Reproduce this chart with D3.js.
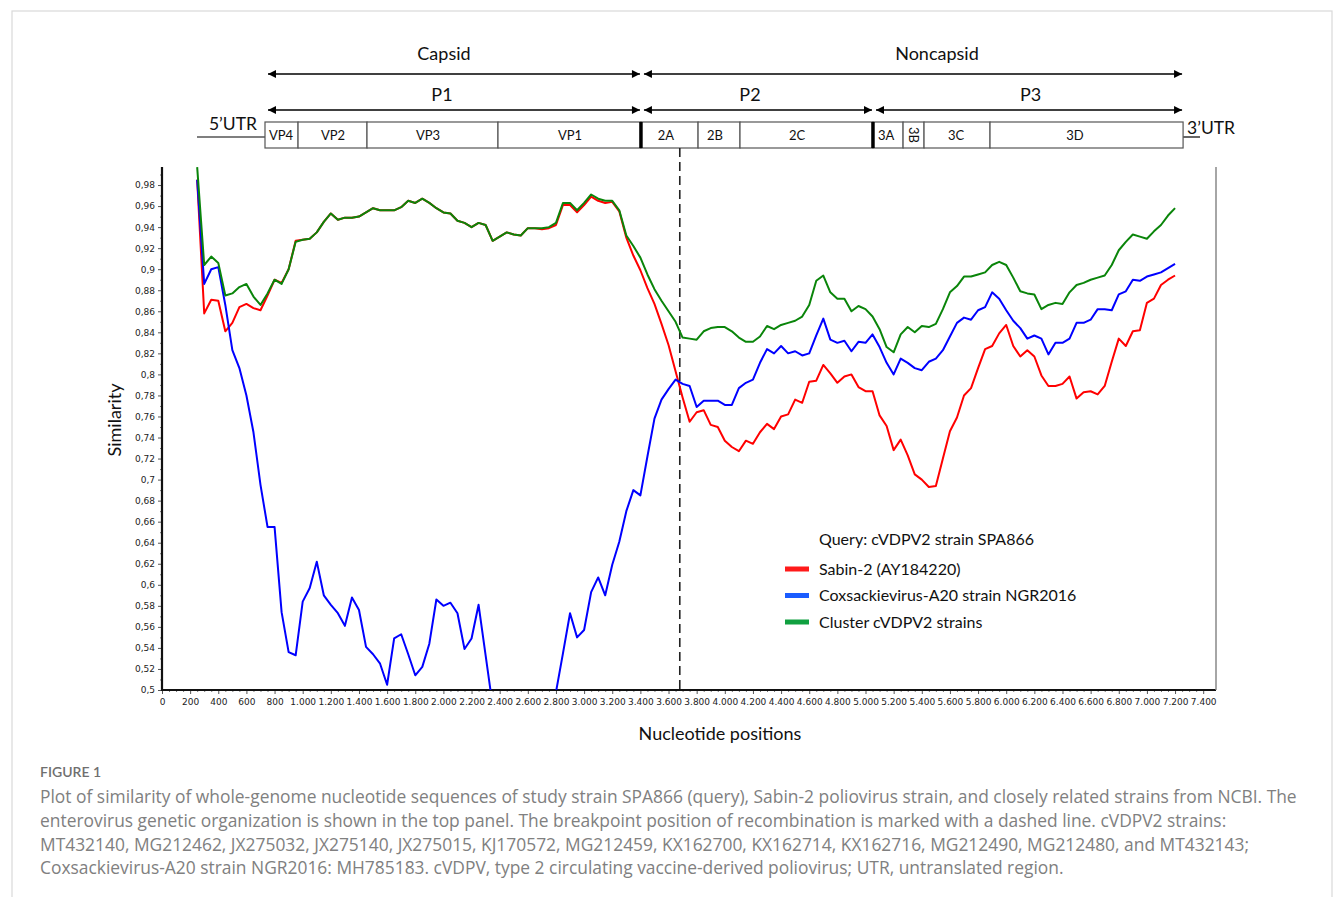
<!DOCTYPE html>
<html>
<head>
<meta charset="utf-8">
<script src="https://cdn.jsdelivr.net/npm/d3@7"></script>
<style>
body { margin: 0; background: #fff; }
svg { display: block; }
</style>
</head>
<body>
<div id="grafica"></div>
<script>
// posiciones de nucleotidos (ventana cada 50 nt)
var positions = [250,300,350,400,450,500,550,600,650,700,750,800,850,900,950,1000,1050,1100,1150,1200,
1250,1300,1350,1400,1450,1500,1550,1600,1650,1700,1750,1800,1850,1900,1950,2000,2050,2100,2150,2200,
2250,2300,2350,2400,2450,2500,2550,2600,2650,2700,2750,2800,2850,2900,2950,3000,3050,3100,3150,3200,
3250,3300,3350,3400,3450,3500,3550,3600,3650,3700,3750,3800,3850,3900,3950,4000,4050,4100,4150,4200,
4250,4300,4350,4400,4450,4500,4550,4600,4650,4700,4750,4800,4850,4900,4950,5000,5050,5100,5150,5200,
5250,5300,5350,5400,5450,5500,5550,5600,5650,5700,5750,5800,5850,5900,5950,6000,6050,6100,6150,6200,
6250,6300,6350,6400,6450,6500,6550,6600,6650,6700,6750,6800,6850,6900,6950,7000,7050,7100,7150,7200];

var sabin2 = [0.985,0.858,0.871,0.870,0.841,0.849,0.864,0.867,0.863,0.861,0.875,0.890,0.887,0.900,0.927,0.928,0.929,0.935,0.945,0.953,
0.947,0.949,0.949,0.950,0.954,0.958,0.956,0.956,0.956,0.959,0.965,0.963,0.967,0.963,0.958,0.954,0.953,0.946,0.944,0.940,
0.944,0.942,0.927,0.931,0.935,0.933,0.932,0.939,0.939,0.938,0.939,0.942,0.961,0.961,0.954,0.961,0.969,0.965,0.963,0.964,
0.955,0.930,0.913,0.899,0.882,0.867,0.848,0.828,0.803,0.778,0.755,0.764,0.766,0.752,0.750,0.737,0.731,0.727,0.737,0.734,
0.745,0.753,0.748,0.760,0.762,0.776,0.773,0.793,0.794,0.809,0.801,0.792,0.798,0.800,0.788,0.784,0.784,0.761,0.751,0.728,
0.738,0.723,0.705,0.700,0.693,0.694,0.720,0.746,0.759,0.780,0.787,0.806,0.824,0.827,0.839,0.847,0.827,0.817,0.823,0.817,
0.799,0.789,0.789,0.791,0.798,0.777,0.783,0.784,0.781,0.789,0.812,0.834,0.827,0.841,0.842,0.868,0.872,0.885,0.890,0.894];

var cva20 = [0.985,0.886,0.900,0.902,0.866,0.823,0.806,0.780,0.745,0.695,0.655,0.655,0.574,0.536,0.533,0.584,0.597,0.622,0.590,0.581,
0.573,0.561,0.588,0.576,0.541,0.534,0.525,0.505,0.549,0.553,0.534,0.514,0.522,0.544,0.586,0.580,0.583,0.573,0.539,0.549,
0.581,0.533,0.485,0.470,0.460,0.455,0.460,0.465,0.460,0.465,0.475,0.498,0.535,0.573,0.550,0.557,0.593,0.607,0.590,0.619,
0.641,0.670,0.690,0.685,0.722,0.758,0.776,0.786,0.795,0.791,0.789,0.769,0.775,0.775,0.775,0.771,0.771,0.787,0.792,0.795,
0.811,0.824,0.820,0.827,0.820,0.822,0.818,0.820,0.837,0.853,0.833,0.830,0.832,0.822,0.831,0.830,0.838,0.826,0.811,0.800,
0.815,0.811,0.806,0.804,0.812,0.815,0.823,0.836,0.849,0.854,0.852,0.861,0.864,0.878,0.872,0.861,0.851,0.844,0.834,0.837,
0.834,0.819,0.830,0.830,0.834,0.849,0.849,0.852,0.862,0.862,0.861,0.876,0.879,0.890,0.889,0.893,0.895,0.897,0.901,0.905];

var cluster = [0.997,0.904,0.912,0.906,0.875,0.877,0.883,0.886,0.874,0.866,0.877,0.890,0.886,0.900,0.926,0.928,0.929,0.935,0.945,0.953,
0.947,0.949,0.949,0.950,0.954,0.958,0.956,0.956,0.956,0.959,0.965,0.963,0.967,0.963,0.958,0.954,0.953,0.946,0.944,0.940,
0.944,0.942,0.927,0.931,0.935,0.933,0.932,0.939,0.939,0.939,0.940,0.944,0.963,0.963,0.956,0.963,0.971,0.967,0.965,0.965,
0.956,0.932,0.922,0.911,0.895,0.881,0.870,0.860,0.850,0.835,0.834,0.833,0.841,0.844,0.845,0.845,0.841,0.835,0.831,0.831,
0.836,0.846,0.843,0.847,0.849,0.851,0.855,0.866,0.889,0.894,0.878,0.872,0.872,0.860,0.865,0.862,0.855,0.843,0.826,0.821,
0.838,0.845,0.840,0.846,0.845,0.848,0.862,0.878,0.884,0.893,0.893,0.895,0.897,0.904,0.907,0.904,0.892,0.879,0.877,0.876,
0.862,0.866,0.868,0.867,0.878,0.885,0.887,0.890,0.892,0.894,0.904,0.918,0.926,0.933,0.931,0.929,0.936,0.942,0.951,0.958];

var seriesNames = ["Sabin-2 (AY184220)", "Coxsackievirus-A20 strain NGR2016", "Cluster cVDPV2 strains"];
var seriesColors = ["#ff0000", "#0000ff", "#0a850a"];
var legendColors = ["#ff1a1a", "#1a5cff", "#10a040"];

// organizacion genetica (posiciones en nt)
var regionNames = ["VP4","VP2","VP3","VP1","2A","2B","2C","3A","3B","3C","3D"];
var regionStart = [732, 967, 1457, 2388, 3404, 3810, 4108, 5053, 5267, 5416, 5885];
var regionEnd   = [967, 1457, 2388, 3404, 3810, 4108, 5053, 5267, 5416, 5885, 7257];
var regionLabelAt = [846, 1215, 1891, 2900, 3582, 3930, 4513, 5146, 5338, 5643, 6489];
var proteinNames = ["P1", "P2", "P3"];
var proteinStart = [732, 3404, 5053];
var proteinEnd   = [3404, 5053, 7257];
var proteinLabelAt = [1990, 4179, 6173];
var groupNames = ["Capsid", "Noncapsid"];
var groupStart = [732, 3404];
var groupEnd   = [3404, 7257];
var groupLabelAt = [2004, 5508];
var breakpoint = 3680;

var xTicks = [0,200,400,600,800,1000,1200,1400,1600,1800,2000,2200,2400,2600,2800,3000,3200,3400,3600,3800,
4000,4200,4400,4600,4800,5000,5200,5400,5600,5800,6000,6200,6400,6600,6800,7000,7200,7400];
var yTicks = [0.5,0.52,0.54,0.56,0.58,0.6,0.62,0.64,0.66,0.68,0.7,0.72,0.74,0.76,0.78,0.8,0.82,0.84,0.86,0.88,0.9,0.92,0.94,0.96,0.98];

var captionTitle = "FIGURE 1";
var captionLines = [
"Plot of similarity of whole-genome nucleotide sequences of study strain SPA866 (query), Sabin-2 poliovirus strain, and closely related strains from NCBI. The",
"enterovirus genetic organization is shown in the top panel. The breakpoint position of recombination is marked with a dashed line. cVDPV2 strains:",
"MT432140, MG212462, JX275032, JX275140, JX275015, KJ170572, MG212459, KX162700, KX162714, KX162716, MG212490, MG212480, and MT432143;",
"Coxsackievirus-A20 strain NGR2016: MH785183. cVDPV, type 2 circulating vaccine-derived poliovirus; UTR, untranslated region."
];

var W = 1333, H = 897;
var plot = {left: 162, right: 1203.2, top: 164, bottom: 690, frameRight: 1216};
var font = "Lato, 'Open Sans', sans-serif";
var captionFont = "'Open Sans', Lato, sans-serif";
var tickFont = "'DejaVu Sans', Verdana, sans-serif";

var svg = d3.select("#grafica").append("svg")
  .attr("width", W).attr("height", H);

svg.append("rect").attr("width", W).attr("height", H).attr("fill", "#fff");

// marco exterior
svg.append("rect")
  .attr("x", 12).attr("y", 11).attr("width", 1320).attr("height", 920)
  .attr("fill", "none").attr("stroke", "#d9d9d9").attr("stroke-width", 1.2);

var loc = d3.formatLocale({decimal: ",", thousands: ".", grouping: [3], currency: ["", ""]});

var x = d3.scaleLinear().domain([0, 7400]).range([plot.left, plot.right]);
var y = d3.scaleLinear().domain([0.5, 1]).range([plot.bottom, plot.top]);

// flechas
var defs = svg.append("defs");
defs.append("marker").attr("id", "arr").attr("viewBox", "0 0 10 10")
  .attr("refX", 10).attr("refY", 5).attr("markerWidth", 9).attr("markerHeight", 8)
  .attr("markerUnits", "userSpaceOnUse").attr("orient", "auto-start-reverse")
  .append("path").attr("d", "M0,0 L10,5 L0,10 Z").attr("fill", "#000");
defs.append("clipPath").attr("id", "clipPlot").append("rect")
  .attr("x", plot.left).attr("y", plot.top).attr("width", plot.frameRight - plot.left).attr("height", plot.bottom - plot.top);

// panel superior
var panel = svg.append("g");
function arrowRow(names, starts, ends, labelAt, yy, ty) {
  names.forEach(function(n, i) {
    panel.append("line")
      .attr("x1", x(starts[i]) + 3).attr("x2", x(ends[i]) - 1)
      .attr("y1", yy).attr("y2", yy)
      .attr("stroke", "#000").attr("stroke-width", 1.6)
      .attr("marker-start", "url(#arr)").attr("marker-end", "url(#arr)");
    panel.append("text")
      .attr("x", x(labelAt[i])).attr("y", ty)
      .attr("text-anchor", "middle").attr("font-family", font).attr("font-size", 18)
      .attr("fill", "#111").text(n);
  });
}
arrowRow(groupNames, groupStart, groupEnd, groupLabelAt, 74, 60);
arrowRow(proteinNames, proteinStart, proteinEnd, proteinLabelAt, 110, 101);

var barTop = 122, barH = 26;
panel.append("line").attr("x1", 197).attr("x2", x(regionStart[0])).attr("y1", 137).attr("y2", 137)
  .attr("stroke", "#000").attr("stroke-width", 1.2);
panel.append("text").attr("x", 233).attr("y", 130).attr("text-anchor", "middle")
  .attr("font-family", font).attr("font-size", 17.5).attr("fill", "#111").text("5\u2019UTR");
panel.append("line").attr("x1", x(regionEnd[regionEnd.length - 1])).attr("x2", 1200).attr("y1", 137).attr("y2", 137)
  .attr("stroke", "#000").attr("stroke-width", 1.2);
panel.append("text").attr("x", 1187).attr("y", 134).attr("font-family", font).attr("font-size", 17.5)
  .attr("fill", "#111").text("3\u2019UTR");

panel.selectAll("rect.seg").data(regionNames).enter().append("rect")
  .attr("class", "seg")
  .attr("x", function(d, i) { return x(regionStart[i]); })
  .attr("y", barTop)
  .attr("width", function(d, i) { return x(regionEnd[i]) - x(regionStart[i]); })
  .attr("height", barH)
  .attr("fill", "#fff").attr("stroke", "#555").attr("stroke-width", 1.2);

panel.selectAll("text.seg").data(regionNames).enter().append("text")
  .attr("class", "seg")
  .attr("transform", function(d, i) {
    var cx = x(regionLabelAt[i]);
    return d === "3B" ? "translate(" + (cx - 4) + "," + (barTop + barH / 2) + ")rotate(90)"
                      : "translate(" + cx + "," + (barTop + barH / 2 + 4.5) + ")";
  })
  .attr("text-anchor", "middle").attr("font-family", font).attr("font-size", 13)
  .attr("fill", "#111").text(function(d) { return d; });

// separadores gruesos entre P1/P2 y P2/P3
[proteinStart[1], proteinStart[2]].forEach(function(p) {
  panel.append("line").attr("x1", x(p)).attr("x2", x(p)).attr("y1", barTop).attr("y2", barTop + barH)
    .attr("stroke", "#000").attr("stroke-width", 3.5);
});

// ejes
var g = svg.append("g");

var yMinor = [];
yTicks.forEach(function(t) { yMinor.push(t + 0.01); });
g.append("g").attr("transform", "translate(" + plot.left + ",0)")
  .call(d3.axisLeft(y).tickValues(yMinor).tickSize(2).tickFormat(""))
  .call(function(a) { a.select(".domain").remove(); a.selectAll("line").attr("stroke", "#777"); });
g.append("g").attr("transform", "translate(" + plot.left + ",0)")
  .call(d3.axisLeft(y).tickValues(yTicks).tickSize(4).tickPadding(3).tickFormat(loc.format("~g")))
  .call(function(a) {
    a.select(".domain").remove();
    a.selectAll("line").attr("stroke", "#555");
    a.selectAll("text").attr("font-family", tickFont).attr("font-size", 9).attr("fill", "#222");
  });

var xMinor = [];
xTicks.forEach(function(t) { xMinor.push(t + 50, t + 100, t + 150); });
g.append("g").attr("transform", "translate(0," + plot.bottom + ")")
  .call(d3.axisBottom(x).tickValues(xMinor.filter(function(v) { return v < 7450; })).tickSize(2).tickFormat(""))
  .call(function(a) { a.select(".domain").remove(); a.selectAll("line").attr("stroke", "#777"); });
g.append("g").attr("transform", "translate(0," + plot.bottom + ")")
  .call(d3.axisBottom(x).tickValues(xTicks).tickSize(4).tickPadding(5).tickFormat(loc.format(",")))
  .call(function(a) {
    a.select(".domain").remove();
    a.selectAll("line").attr("stroke", "#555");
    a.selectAll("text").attr("font-family", tickFont).attr("font-size", 9).attr("fill", "#222");
  });

// marco de la grafica
g.append("line").attr("x1", plot.left).attr("x2", plot.left).attr("y1", plot.top + 3).attr("y2", plot.bottom + 1)
  .attr("stroke", "#111").attr("stroke-width", 2.2);
g.append("line").attr("x1", plot.left - 1).attr("x2", plot.frameRight).attr("y1", plot.bottom).attr("y2", plot.bottom)
  .attr("stroke", "#111").attr("stroke-width", 2.2);
g.append("line").attr("x1", plot.frameRight).attr("x2", plot.frameRight).attr("y1", plot.top + 3).attr("y2", plot.bottom)
  .attr("stroke", "#888").attr("stroke-width", 1.5);

// linea del punto de recombinacion
g.append("line").attr("x1", x(breakpoint)).attr("x2", x(breakpoint))
  .attr("y1", barTop + barH).attr("y2", plot.bottom)
  .attr("stroke", "#222").attr("stroke-width", 1.6).attr("stroke-dasharray", "9,5");

// lineas de similitud
var line = d3.line()
  .x(function(d) { return x(d[0]); })
  .y(function(d) { return y(d[1]); });

var series = [sabin2, cva20, cluster];
var lines = svg.append("g").attr("clip-path", "url(#clipPlot)");
series.forEach(function(s, i) {
  lines.append("path")
    .datum(positions.map(function(p, j) { return [p, s[j]]; }))
    .attr("d", line)
    .attr("fill", "none")
    .attr("stroke", seriesColors[i])
    .attr("stroke-width", 2)
    .attr("stroke-linejoin", "round");
});

// titulos de ejes
svg.append("text").attr("transform", "translate(121,420)rotate(-90)")
  .attr("text-anchor", "middle").attr("font-family", font).attr("font-size", 18)
  .attr("fill", "#111").text("Similarity");
svg.append("text").attr("x", 720).attr("y", 740)
  .attr("text-anchor", "middle").attr("font-family", font).attr("font-size", 18)
  .attr("fill", "#111").text("Nucleotide positions");

// leyenda
var leg = svg.append("g");
leg.append("text").attr("x", 819).attr("y", 545).attr("font-family", font).attr("font-size", 16)
  .attr("fill", "#111").text("Query: cVDPV2 strain SPA866");
seriesNames.forEach(function(n, i) {
  var ly = 569 + i * 26.5;
  leg.append("rect").attr("x", 785).attr("y", ly - 2.5).attr("width", 24).attr("height", 5)
    .attr("fill", legendColors[i]);
  leg.append("text").attr("x", 819).attr("y", ly + 5.5).attr("font-family", font).attr("font-size", 16)
    .attr("fill", "#111").text(n);
});

// pie de figura
svg.append("text").attr("x", 40).attr("y", 777).attr("font-family", font).attr("font-size", 14)
  .attr("font-weight", 600).attr("fill", "#6f6f6f").text(captionTitle);
captionLines.forEach(function(t, i) {
  svg.append("text").attr("x", 40).attr("y", 803 + i * 23.8).attr("font-family", captionFont)
    .attr("font-size", 17.4).attr("fill", "#808080").text(t);
});
</script>
</body>
</html>
